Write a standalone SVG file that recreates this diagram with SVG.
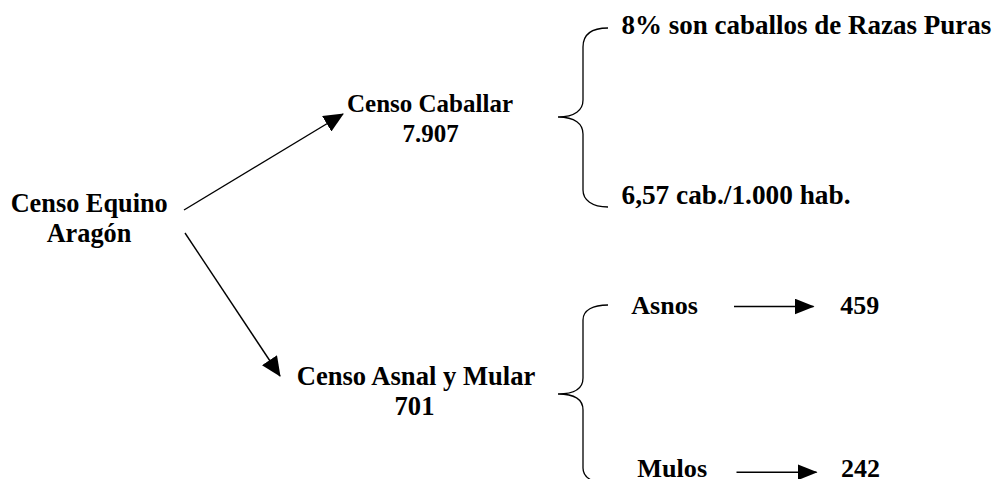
<svg xmlns="http://www.w3.org/2000/svg" width="996" height="479" viewBox="0 0 996 479">
<style>
.t{font-family:"Liberation Serif","Times New Roman",serif;font-weight:bold;fill:#000}
.c{text-anchor:middle}
.ln{stroke:#000;stroke-width:1.4;fill:none}
.br{stroke:#000;stroke-width:1.3;fill:none}
</style>
<defs>
<marker id="ah" markerUnits="userSpaceOnUse" markerWidth="20" markerHeight="18" viewBox="0 0 20 18" refX="19" refY="9" orient="auto">
<path d="M0,0 L20,9 L0,18 z" fill="#000"/>
</marker>
<marker id="ahs" markerUnits="userSpaceOnUse" markerWidth="20" markerHeight="16" viewBox="0 0 20 16" refX="19" refY="8" orient="auto">
<path d="M0,0 L20,8 L0,16 z" fill="#000"/>
</marker>
</defs>
<rect width="996" height="479" fill="#fff"/>
<g id="connectors">
<line class="ln" x1="184" y1="210" x2="343" y2="114" marker-end="url(#ah)"/>
<line class="ln" x1="185" y1="233" x2="280" y2="376" marker-end="url(#ah)"/>
<line class="ln" x1="734" y1="306.5" x2="813.5" y2="306.5" marker-end="url(#ahs)"/>
<line class="ln" x1="736.5" y1="472.3" x2="816.5" y2="472.3" marker-end="url(#ahs)"/>
</g>
<g id="node-equino">
<text class="t c" x="89.2" y="211.7" font-size="26.3">Censo Equino</text>
<text class="t c" x="89" y="241.7" font-size="26.3">Aragón</text>
</g>
<g id="node-caballar">
<text class="t c" x="430" y="111.5" font-size="25">Censo Caballar</text>
<text class="t c" x="430.5" y="141.7" font-size="25">7.907</text>
</g>
<g id="node-asnal">
<text class="t c" x="416" y="385" font-size="26.6">Censo Asnal y Mular</text>
<text class="t c" x="414.5" y="415" font-size="26.6">701</text>
</g>
<g id="brace-caballar">
<path class="br" d="M608,28 C592,28 583,34 583,47 L583,100 C583,110 575,117 558,117 C575,117 583,124 583,134 L583,190 C583,200 592,207 608,207"/>
</g>
<g id="node-razas">
<text class="t" x="621.5" y="34.3" font-size="27">8% son caballos de Razas Puras</text>
</g>
<g id="node-habitantes">
<text class="t" x="621.5" y="203.8" font-size="27.3">6,57 cab./1.000 hab.</text>
</g>
<g id="brace-asnal">
<path class="br" d="M608,305 C593,305 583,310 583,320 L583,378 C583,388 575,394 558,394 C575,394 583,400 583,410 L583,468 C583,478 593,483 608,483"/>
</g>
<g id="node-asnos">
<text class="t" x="631.3" y="314.3" font-size="26">Asnos</text>
</g>
<g id="node-459">
<text class="t" x="840.3" y="314.3" font-size="26">459</text>
</g>
<g id="node-mulos">
<text class="t" x="637.3" y="476.5" font-size="26.2">Mulos</text>
</g>
<g id="node-242">
<text class="t" x="841" y="476.5" font-size="26">242</text>
</g>
</svg>
